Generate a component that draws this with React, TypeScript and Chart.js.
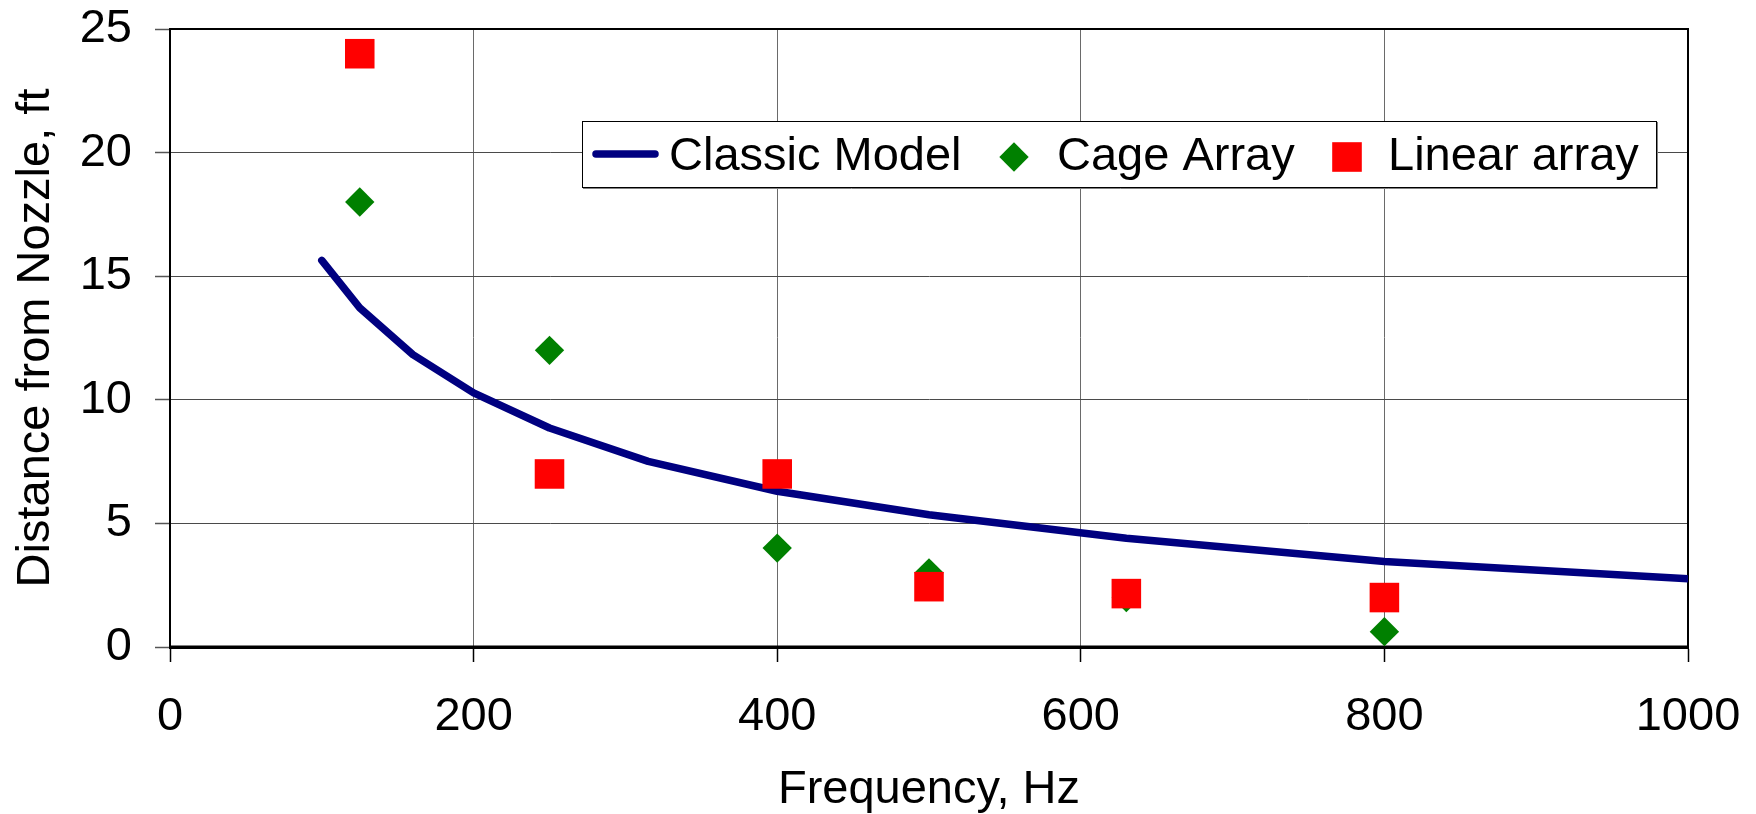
import React, { useEffect, useRef } from "react";
import { Chart, registerables } from "chart.js";

Chart.register(...registerables);

const FONT = '"Liberation Sans", Arial, Helvetica, sans-serif';

// ---- data ----
const modelFrequency = [100, 125, 160, 200, 250, 315, 400, 500, 630, 800, 1000];
const modelDistance = [15.64, 13.72, 11.83, 10.28, 8.86, 7.51, 6.3, 5.35, 4.4, 3.46, 2.76];

const cageFrequency = [125, 250, 400, 500, 630, 800];
const cageDistance = [18, 12, 4, 3, 2, 0.62];

const linearFrequency = [125, 250, 400, 500, 630, 800];
const linearDistance = [24, 7, 7, 2.44, 2.16, 2];

const xTickValues = [0, 200, 400, 600, 800, 1000];
const yTickValues = [0, 5, 10, 15, 20, 25];

const seriesLabels = ["Classic Model", "Cage Array", "Linear array"];
const xTitle = "Frequency, Hz";
const yTitle = "Distance from Nozzle, ft";

const toPoints = (xs: number[], ys: number[]) => xs.map((x, i) => ({ x, y: ys[i] }));

export default function App() {
  const ref = useRef<HTMLCanvasElement>(null);

  useEffect(() => {
    document.body.style.margin = "0";
    const canvas = ref.current;
    if (!canvas) return;

    const framePlugin = {
      id: "frame",
      beforeDatasetsDraw(chart: any) {
        const { ctx, chartArea: a } = chart;
        ctx.save();
        ctx.strokeStyle = "#000";
        ctx.lineWidth = 2;
        ctx.beginPath();
        ctx.moveTo(a.left, a.bottom);
        ctx.lineTo(a.left, a.top);
        ctx.lineTo(a.right, a.top);
        ctx.lineTo(a.right, a.bottom);
        ctx.stroke();
        ctx.lineWidth = 3;
        ctx.beginPath();
        ctx.moveTo(a.left - 1, a.bottom);
        ctx.lineTo(a.right + 1, a.bottom);
        ctx.stroke();
        ctx.restore();
      },
    };

    const legendPlugin = {
      id: "insideLegend",
      afterDatasetsDraw(chart: any) {
        const { ctx } = chart;
        const ds = chart.data.datasets;
        const box = { left: 582, top: 121, right: 1656, bottom: 187 };
        ctx.save();
        ctx.fillStyle = "#fff";
        ctx.fillRect(box.left, box.top, box.right - box.left, box.bottom - box.top);
        ctx.strokeStyle = "#808080";
        ctx.lineWidth = 1;
        ctx.beginPath();
        ctx.moveTo(box.left + 1, box.bottom + 1.5);
        ctx.lineTo(box.right + 1.5, box.bottom + 1.5);
        ctx.lineTo(box.right + 1.5, box.top + 1);
        ctx.stroke();
        ctx.strokeStyle = "#000";
        ctx.strokeRect(box.left + 0.5, box.top + 0.5, box.right - box.left, box.bottom - box.top);

        const textY = 157;
        ctx.font = `47px ${FONT}`;
        ctx.fillStyle = "#000";
        ctx.textBaseline = "middle";
        ctx.textAlign = "left";

        // line sample
        ctx.strokeStyle = ds[0].borderColor;
        ctx.lineWidth = 7.5;
        ctx.lineCap = "round";
        ctx.beginPath();
        ctx.moveTo(596, 154);
        ctx.lineTo(655, 154);
        ctx.stroke();
        ctx.fillText(ds[0].label, 669, textY);

        // diamond
        ctx.fillStyle = ds[1].pointBackgroundColor;
        const dx = 1014, r = 14.7;
        ctx.beginPath();
        ctx.moveTo(dx - r, 157);
        ctx.lineTo(dx, 157 - r);
        ctx.lineTo(dx + r, 157);
        ctx.lineTo(dx, 157 + r);
        ctx.closePath();
        ctx.fill();
        ctx.fillStyle = "#000";
        ctx.fillText(ds[1].label, 1057, textY);

        // square
        ctx.fillStyle = ds[2].pointBackgroundColor;
        ctx.fillRect(1347 - 14.8, 157 - 14.8, 29.6, 29.6);
        ctx.fillStyle = "#000";
        ctx.fillText(ds[2].label, 1388, textY);
        ctx.restore();
      },
    };

    const zeroPad = (scale: any) => {
      scale.paddingTop = 0;
      scale.paddingBottom = 0;
      scale.paddingLeft = 0;
      scale.paddingRight = 0;
    };

    const chart = new Chart(canvas, {
      type: "scatter",
      data: {
        datasets: [
          {
            label: seriesLabels[0],
            data: toPoints(modelFrequency, modelDistance),
            showLine: true,
            borderColor: "#000080",
            backgroundColor: "#000080",
            borderWidth: 7.5,
            borderCapStyle: "round",
            borderJoinStyle: "round",
            pointRadius: 0,
            tension: 0,
            order: 3,
          } as any,
          {
            label: seriesLabels[1],
            data: toPoints(cageFrequency, cageDistance),
            showLine: false,
            pointStyle: "rectRot",
            pointRadius: 14.7,
            pointBorderWidth: 0,
            pointBackgroundColor: "#008000",
            backgroundColor: "#008000",
            borderColor: "#008000",
            order: 2,
          } as any,
          {
            label: seriesLabels[2],
            data: toPoints(linearFrequency, linearDistance),
            showLine: false,
            pointStyle: "rect",
            pointRadius: 20.9,
            pointBorderWidth: 0,
            pointBackgroundColor: "#ff0000",
            backgroundColor: "#ff0000",
            borderColor: "#ff0000",
            order: 1,
          } as any,
        ],
      },
      options: {
        responsive: false,
        animation: false,
        layout: { padding: { top: 29, right: 68, left: 0, bottom: 0 } },
        plugins: {
          legend: { display: false },
          tooltip: { enabled: false },
        },
        scales: {
          x: {
            type: "linear",
            min: 0,
            max: 1000,
            afterBuildTicks: (scale: any) => {
              scale.ticks = xTickValues.map((v) => ({ value: v }));
            },
            afterFit: (scale: any) => {
              scale.height = 167;
              zeroPad(scale);
            },
            ticks: {
              color: "#000",
              font: { family: FONT, size: 47, lineHeight: 1.2 },
              padding: 27,
              maxRotation: 0,
              autoSkip: false,
              callback: (v: any) => String(v),
            },
            grid: {
              color: "#6a6a6a",
              lineWidth: 1,
              tickLength: 15,
              tickColor: "#000",
              tickWidth: 1.5,
            },
            border: { display: true, color: "#000", width: 3 },
            title: {
              display: true,
              text: xTitle,
              color: "#000",
              font: { family: FONT, size: 47, lineHeight: 1.0 },
              padding: { top: 0, bottom: 0 },
            },
          },
          y: {
            type: "linear",
            min: 0,
            max: 25,
            afterBuildTicks: (scale: any) => {
              scale.ticks = yTickValues.map((v) => ({ value: v }));
            },
            afterFit: (scale: any) => {
              scale.width = 170;
              zeroPad(scale);
            },
            ticks: {
              color: "#000",
              font: { family: FONT, size: 47, lineHeight: 1.2 },
              padding: 23,
              autoSkip: false,
              callback: (v: any) => String(v),
            },
            grid: {
              color: "#4a4a4a",
              lineWidth: 1,
              tickLength: 15,
              tickColor: "#555",
              tickWidth: 1.5,
            },
            border: { display: true, color: "#000", width: 2 },
            title: {
              display: true,
              text: yTitle,
              color: "#000",
              font: { family: FONT, size: 47, lineHeight: 1.12 },
              padding: { top: 10, bottom: 0 },
            },
          },
        },
      },
      plugins: [framePlugin, legendPlugin],
    });

    return () => chart.destroy();
  }, []);

  return (
    <div style={{ position: "absolute", left: 0, top: 0, width: 1756, height: 814, background: "#fff" }}>
      <canvas ref={ref} width={1756} height={814} style={{ display: "block" }} />
    </div>
  );
}
